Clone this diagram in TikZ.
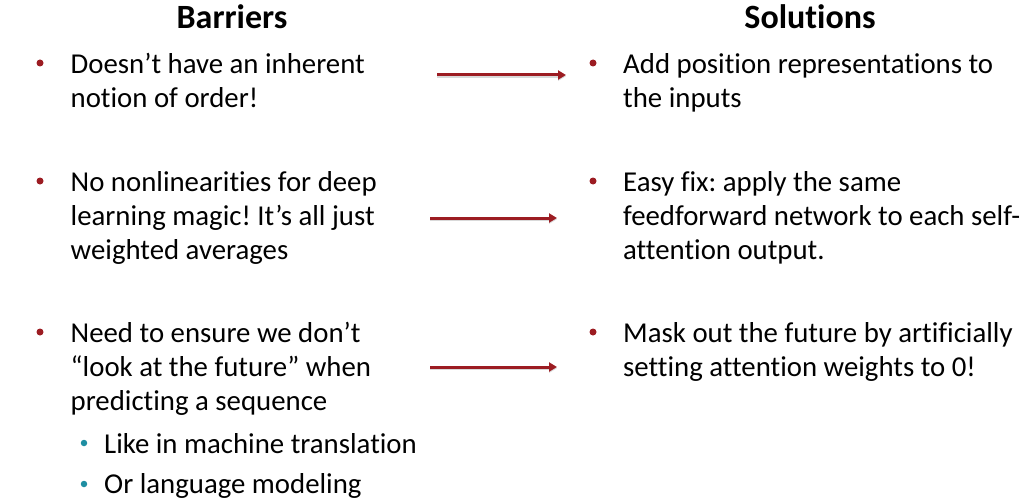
\documentclass[tikz,border=0pt]{standalone}
\usepackage{fontspec}
\setmainfont{Carlito}[Ligatures=NoCommon]
\frenchspacing
\usetikzlibrary{arrows.meta}
\definecolor{barred}{HTML}{9C1C22}
\definecolor{subteal}{HTML}{1E8EA2}
\begin{document}
\begin{tikzpicture}[x=1pt,y=-1pt,
    head/.style={font=\fontsize{34}{40}\selectfont\bfseries, inner sep=0, anchor=base},
    txt/.style={font=\fontsize{28.8}{34}\selectfont, inner sep=0, anchor=base west, align=left},
    subtxt/.style={font=\fontsize{28.8}{34}\selectfont, inner sep=0, anchor=base west},
    dot/.style={circle, fill=barred, inner sep=0, minimum size=7pt},
    subdot/.style={circle, fill=subteal, inner sep=0, minimum size=6.5pt},
    link/.style={draw=barred, line width=3pt, -{Triangle[length=8pt,width=9pt]},
      preaction={draw=black!15, line width=3pt, transform canvas={yshift=-1.2pt}}}]
  \useasboundingbox (0,0) rectangle (1036,503);
  % headings
  \node[head] (barriers) at (232,29) {Barriers};
  \node[head] (solutions) at (810,29) {Solutions};
  % barriers (anchored on the last line)
  \node[dot] (bdot1) at (40,63) {};
  \node[txt] (bar1) at (70.5,107) {Doesn’t have an inherent\\notion of order!};
  \node[dot] (bdot2) at (40,181) {};
  \node[txt] (bar2) at (70.5,259) {No nonlinearities for deep\\learning magic! It’s all just\\weighted averages};
  \node[dot] (bdot3) at (40,332) {};
  \node[txt] (bar3) at (70.5,410) {Need to ensure we don’t\\“look at the future” when\\predicting a sequence};
  \node[subdot] (subdot1) at (84,443) {};
  \node[subtxt] (sub1) at (104,453) {Like in machine translation};
  \node[subdot] (subdot2) at (84,484) {};
  \node[subtxt] (sub2) at (104,493) {Or language modeling};
  % solutions
  \node[dot] (sdot1) at (593,63) {};
  \node[txt] (sol1) at (623,107) {Add position representations to\\the inputs};
  \node[dot] (sdot2) at (593,181) {};
  \node[txt] (sol2) at (623,259) {Easy fix: apply the same\\feedforward network to each self-\\attention output.};
  \node[dot] (sdot3) at (593,332) {};
  \node[txt] (sol3) at (623,376) {Mask out the future by artificially\\setting attention weights to 0!};
  % arrows
  \coordinate (a1s) at (437,75);  \coordinate (a1e) at (566,75);
  \coordinate (a2s) at (430,218); \coordinate (a2e) at (557,218);
  \coordinate (a3s) at (430,367); \coordinate (a3e) at (557,367);
  \draw[link] (a1s) -- (a1e);
  \draw[link] (a2s) -- (a2e);
  \draw[link] (a3s) -- (a3e);
\end{tikzpicture}
\end{document}
